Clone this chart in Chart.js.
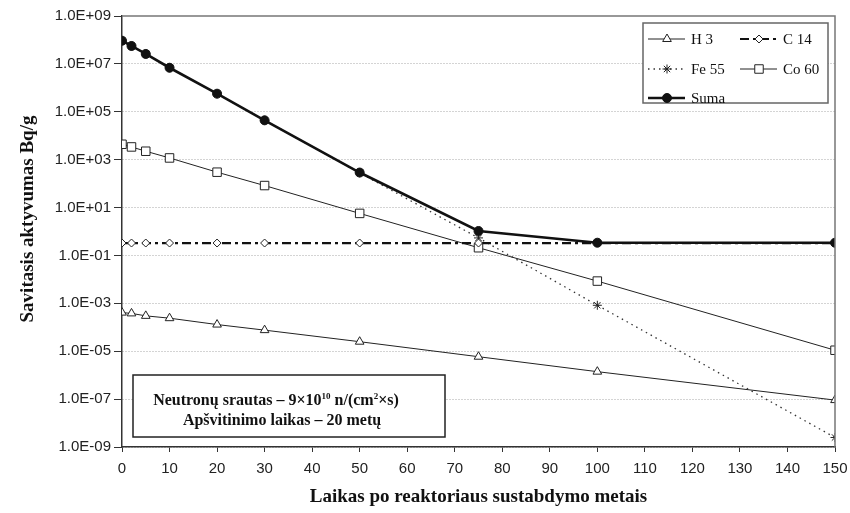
<!DOCTYPE html>
<html>
<head>
<meta charset="utf-8">
<script src="https://cdn.jsdelivr.net/npm/chart.js"></script>
<style>
  html, body { margin: 0; padding: 0; background: #fff; }
  #chart { display: block; }
</style>
</head>
<body>
<canvas id="chart" width="850" height="513"></canvas>
<script>
// Years after reactor shutdown
const years = [0, 2, 5, 10, 20, 30, 50, 75, 100, 150];

// Specific activity, Bq/g
const h3   = [4.1e-4, 3.8e-4, 3.0e-4, 2.4e-4, 1.3e-4, 7.6e-5, 2.5e-5, 5.9e-6, 1.4e-6, 9.1e-8];
const c14  = [0.33, 0.33, 0.33, 0.33, 0.33, 0.33, 0.33, 0.33, 0.33, 0.33];
const fe55 = [9.3e7, 5.6e7, 2.6e7, 6.9e6, 5.7e5, 4.4e4, 2.8e2, 0.54, 8.3e-4, 2.5e-9];
const co60 = [4400, 3400, 2250, 1180, 300, 83, 5.7, 0.21, 0.0085, 1.1e-5];
const suma = [9.3e7, 5.6e7, 2.6e7, 6.9e6, 5.7e5, 4.4e4, 2.9e2, 1.05, 0.34, 0.34];

// Axis ticks
const yTicks = [1e-9, 1e-7, 1e-5, 1e-3, 1e-1, 1e1, 1e3, 1e5, 1e7, 1e9];
const xStep = 10;

const yTitle = 'Savitasis aktyvumas Bq/g';
const xTitle = 'Laikas po reaktoriaus sustabdymo metais';

function toPoints(values) {
    return values.map((v, i) => ({ x: years[i], y: v }));
}

function sciLabel(v) {
    const e = Math.round(Math.log10(v));
    return '1.0E' + (e < 0 ? '-' : '+') + String(Math.abs(e)).padStart(2, '0');
}

// Draw a marker for the hand-made legend
function drawMarker(ctx, style, x, y, r, fill, stroke) {
    ctx.save();
    ctx.setLineDash([]);
    ctx.lineWidth = 1;
    ctx.strokeStyle = stroke;
    ctx.fillStyle = fill;
    ctx.beginPath();
    if (style === 'triangle') {
        for (let k = 0; k < 3; k++) {
            const a = -Math.PI / 2 + k * 2 * Math.PI / 3;
            const px = x + r * Math.cos(a), py = y + r * Math.sin(a);
            k === 0 ? ctx.moveTo(px, py) : ctx.lineTo(px, py);
        }
        ctx.closePath();
        ctx.fill(); ctx.stroke();
    } else if (style === 'rectRot') {
        ctx.moveTo(x, y - r); ctx.lineTo(x + r, y); ctx.lineTo(x, y + r); ctx.lineTo(x - r, y);
        ctx.closePath();
        ctx.fill(); ctx.stroke();
    } else if (style === 'rect') {
        const s = r * Math.SQRT1_2;
        ctx.rect(x - s, y - s, 2 * s, 2 * s);
        ctx.fill(); ctx.stroke();
    } else if (style === 'star') {
        ctx.moveTo(x - r, y); ctx.lineTo(x + r, y);
        ctx.moveTo(x, y - r); ctx.lineTo(x, y + r);
        const d = r * Math.SQRT1_2;
        ctx.moveTo(x - d, y - d); ctx.lineTo(x + d, y + d);
        ctx.moveTo(x - d, y + d); ctx.lineTo(x + d, y - d);
        ctx.stroke();
    } else {
        ctx.arc(x, y, r, 0, Math.PI * 2);
        ctx.fill(); ctx.stroke();
    }
    ctx.restore();
}

const decorPlugin = {
    id: 'decor',
    afterDraw(chart) {
        const ctx = chart.ctx;
        const area = chart.chartArea;

        // frame on top and right
        ctx.save();
        ctx.strokeStyle = '#777';
        ctx.lineWidth = 1.5;
        ctx.beginPath();
        ctx.moveTo(area.left, area.top);
        ctx.lineTo(area.right, area.top);
        ctx.lineTo(area.right, area.bottom);
        ctx.stroke();
        ctx.restore();

        // legend box
        ctx.save();
        ctx.fillStyle = '#fff';
        ctx.fillRect(643, 23, 185, 80);
        ctx.strokeStyle = '#666';
        ctx.lineWidth = 1.5;
        ctx.strokeRect(643, 23, 185, 80);
        const slots = [[648, 39], [740, 39], [648, 69], [740, 69], [648, 98]];
        const order = ['H 3', 'C 14', 'Fe 55', 'Co 60', 'Suma'];
        order.forEach((name, i) => {
            const ds = chart.data.datasets.find(d => d.label === name);
            const [lx, ly] = slots[i];
            ctx.save();
            ctx.strokeStyle = ds.borderColor;
            ctx.lineWidth = ds.borderWidth;
            ctx.setLineDash(ds.borderDash || []);
            ctx.beginPath();
            ctx.moveTo(lx, ly);
            ctx.lineTo(lx + 37, ly);
            ctx.stroke();
            ctx.restore();
            drawMarker(ctx, ds.pointStyle, lx + 19, ly, ds.pointRadius,
                ds.pointBackgroundColor, ds.pointBorderColor);
            ctx.fillStyle = '#111';
            ctx.font = '15px "Liberation Serif"';
            ctx.textBaseline = 'middle';
            ctx.textAlign = 'left';
            ctx.fillText(name, lx + 43, ly + 1);
        });
        ctx.restore();

        // note box
        ctx.save();
        ctx.fillStyle = '#fff';
        ctx.fillRect(133, 375, 312, 62);
        ctx.strokeStyle = '#222';
        ctx.lineWidth = 1.5;
        ctx.strokeRect(133, 375, 312, 62);
        const runs = [
            { t: 'Neutronų srautas – 9×10' },
            { t: '10', sup: true },
            { t: ' n/(cm' },
            { t: '2', sup: true },
            { t: '×s)' }
        ];
        const base = 'bold 16px "Liberation Serif"';
        const small = 'bold 9px "Liberation Serif"';
        let w = 0;
        runs.forEach(r => { ctx.font = r.sup ? small : base; w += ctx.measureText(r.t).width; });
        let cx = 276 - w / 2;
        ctx.fillStyle = '#111';
        ctx.textBaseline = 'alphabetic';
        ctx.textAlign = 'left';
        runs.forEach(r => {
            ctx.font = r.sup ? small : base;
            ctx.fillText(r.t, cx, r.sup ? 399 : 405);
            cx += ctx.measureText(r.t).width;
        });
        ctx.font = base;
        ctx.textAlign = 'center';
        ctx.fillText('Apšvitinimo laikas – 20 metų', 282, 425);
        ctx.restore();

        // y axis title
        ctx.save();
        ctx.translate(28, 219);
        ctx.rotate(-Math.PI / 2);
        ctx.font = 'bold 19px "Liberation Serif"';
        ctx.fillStyle = '#111';
        ctx.textAlign = 'center';
        ctx.textBaseline = 'middle';
        ctx.fillText(yTitle, 0, 0);
        ctx.restore();
    }
};

const ctx = document.getElementById('chart').getContext('2d');
new Chart(ctx, {
    type: 'line',
    data: {
        datasets: [
            {
                label: 'Suma', data: toPoints(suma), order: 0,
                borderColor: '#111', borderWidth: 2.6,
                pointStyle: 'circle', pointRadius: 4.5,
                pointBackgroundColor: '#111', pointBorderColor: '#111'
            },
            {
                label: 'H 3', data: toPoints(h3), order: 1,
                borderColor: '#222', borderWidth: 1,
                pointStyle: 'triangle', pointRadius: 5,
                pointBackgroundColor: '#fff', pointBorderColor: '#222'
            },
            {
                label: 'C 14', data: toPoints(c14), order: 2,
                borderColor: '#111', borderWidth: 2.2, borderDash: [9, 4, 3, 4],
                pointStyle: 'rectRot', pointRadius: 4,
                pointBackgroundColor: '#fff', pointBorderColor: '#222'
            },
            {
                label: 'Fe 55', data: toPoints(fe55), order: 3,
                borderColor: '#333', borderWidth: 1.3, borderDash: [1.5, 4],
                pointStyle: 'star', pointRadius: 4.5,
                pointBackgroundColor: '#fff', pointBorderColor: '#222'
            },
            {
                label: 'Co 60', data: toPoints(co60), order: 4,
                borderColor: '#222', borderWidth: 1,
                pointStyle: 'rect', pointRadius: 6,
                pointBackgroundColor: '#fff', pointBorderColor: '#222'
            }
        ]
    },
    options: {
        responsive: false,
        animation: false,
        devicePixelRatio: 1,
        layout: { padding: { top: 16, right: 15, left: 0, bottom: 0 } },
        plugins: {
            legend: { display: false },
            tooltip: { enabled: false }
        },
        elements: {
            line: { tension: 0, fill: false },
            point: { pointBorderWidth: 1, borderWidth: 1 }
        },
        scales: {
            x: {
                type: 'linear',
                min: 0,
                max: 150,
                afterFit: (scale) => {
                    scale.height = 66;
                    scale.paddingRight = 0;
                    scale.paddingLeft = 0;
                },
                ticks: {
                    stepSize: xStep,
                    padding: 8,
                    color: '#222',
                    font: { family: '"Liberation Sans"', size: 15 },
                    maxRotation: 0
                },
                grid: {
                    drawOnChartArea: false,
                    tickLength: 5,
                    tickColor: '#333'
                },
                border: { color: '#333', width: 1.5 },
                title: {
                    display: true,
                    text: xTitle,
                    color: '#111',
                    font: { family: '"Liberation Serif"', size: 19, weight: 'bold' },
                    padding: { top: 0, bottom: 5 }
                }
            },
            y: {
                type: 'logarithmic',
                min: 1e-9,
                max: 1e9,
                afterFit: (scale) => { scale.width = 122; },
                afterBuildTicks: (scale) => {
                    scale.ticks = yTicks.map(v => ({ value: v }));
                },
                ticks: {
                    autoSkip: false,
                    padding: 3,
                    color: '#222',
                    font: { family: '"Liberation Sans"', size: 15 },
                    callback: (v) => sciLabel(v)
                },
                grid: {
                    color: (c) => (c.tick && c.tick.value === 1e9) ? 'rgba(0,0,0,0)' : '#a8a8a8',
                    lineWidth: 1,
                    tickLength: 8,
                    tickColor: '#333'
                },
                border: { color: '#333', width: 1.5, dash: [1, 2] }
            }
        }
    },
    plugins: [decorPlugin]
});
</script>
</body>
</html>
